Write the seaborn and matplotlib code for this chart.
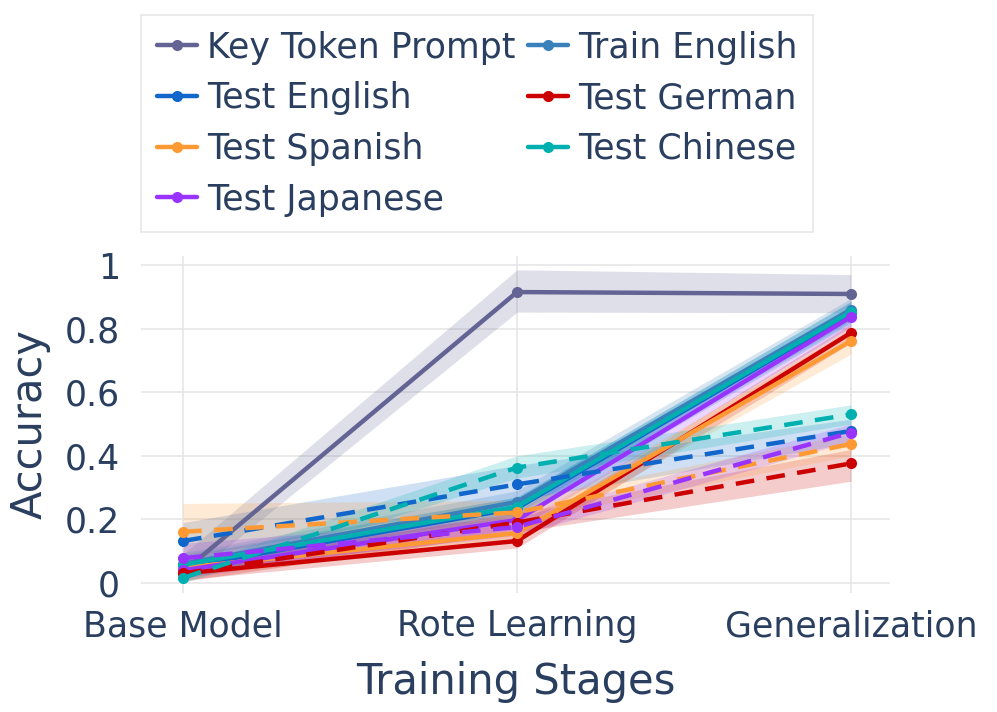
import numpy as np
import pandas as pd
import matplotlib.pyplot as plt
import seaborn as sns

# Stages on the x axis
stages = ['Base Model', 'Rote Learning', 'Generalization']

# Solid series (shown in legend): mean, lower and upper band
solid_names = ['Key Token Prompt', 'Train English', 'Test English', 'Test German',
               'Test Spanish', 'Test Chinese', 'Test Japanese']
solid_mean = {
    'Key Token Prompt': [0.035, 0.915, 0.909],
    'Train English':    [0.060, 0.255, 0.860],
    'Test English':     [0.050, 0.235, 0.848],
    'Test German':      [0.030, 0.132, 0.787],
    'Test Spanish':     [0.048, 0.157, 0.761],
    'Test Chinese':     [0.057, 0.240, 0.853],
    'Test Japanese':    [0.040, 0.198, 0.837],
}
solid_low = {
    'Key Token Prompt': [0.000, 0.852, 0.850],
    'Train English':    [0.030, 0.220, 0.825],
    'Test English':     [0.020, 0.200, 0.815],
    'Test German':      [0.010, 0.110, 0.755],
    'Test Spanish':     [0.020, 0.130, 0.720],
    'Test Chinese':     [0.030, 0.210, 0.820],
    'Test Japanese':    [0.015, 0.170, 0.805],
}
solid_high = {
    'Key Token Prompt': [0.090, 0.985, 0.970],
    'Train English':    [0.095, 0.290, 0.895],
    'Test English':     [0.085, 0.270, 0.885],
    'Test German':      [0.055, 0.160, 0.815],
    'Test Spanish':     [0.080, 0.185, 0.795],
    'Test Chinese':     [0.090, 0.270, 0.885],
    'Test Japanese':    [0.070, 0.225, 0.865],
}

# Dashed series (not in legend)
dashed_names = ['Test English', 'Test German', 'Test Spanish', 'Test Chinese', 'Test Japanese']
dashed_mean = {
    'Test English':  [0.132, 0.310, 0.478],
    'Test German':   [0.030, 0.190, 0.376],
    'Test Spanish':  [0.161, 0.222, 0.437],
    'Test Chinese':  [0.016, 0.363, 0.530],
    'Test Japanese': [0.078, 0.176, 0.473],
}
dashed_low = {
    'Test English':  [0.080, 0.260, 0.440],
    'Test German':   [0.005, 0.160, 0.320],
    'Test Spanish':  [0.080, 0.195, 0.400],
    'Test Chinese':  [0.000, 0.330, 0.500],
    'Test Japanese': [0.035, 0.150, 0.445],
}
dashed_high = {
    'Test English':  [0.190, 0.370, 0.515],
    'Test German':   [0.055, 0.220, 0.420],
    'Test Spanish':  [0.250, 0.260, 0.470],
    'Test Chinese':  [0.045, 0.400, 0.560],
    'Test Japanese': [0.125, 0.205, 0.500],
}

colors = {
    'Key Token Prompt': '#636394',
    'Train English': '#3a80ba',
    'Test English': '#1166cc',
    'Test German': '#cc0000',
    'Test Spanish': '#ff9933',
    'Test Chinese': '#00b0b0',
    'Test Japanese': '#9933ff',
}

text_color = '#2a3f5f'
grid_color = '#e6e6e6'

sns.set_theme(style='white')
plt.rcParams['font.family'] = ['DejaVu Sans']

fig = plt.figure(figsize=(9.97, 7.12), dpi=100)
ax = fig.add_axes([141 / 997, 1 - 592.5 / 712, 749 / 997, 337 / 712])

x = np.arange(len(stages))

for name in solid_names:
    c = colors[name]
    ax.fill_between(x, solid_low[name], solid_high[name], color=c, alpha=0.2, linewidth=0)
    sns.lineplot(x=x, y=solid_mean[name], ax=ax, color=c, linewidth=3.2,
                 marker='o', markersize=8, markeredgewidth=0, label=name)

for name in dashed_names:
    c = colors[name]
    ax.fill_between(x, dashed_low[name], dashed_high[name], color=c, alpha=0.2, linewidth=0)
    sns.lineplot(x=x, y=dashed_mean[name], ax=ax, color=c, linewidth=3.2,
                 linestyle=(0, (4.2, 2.8)), marker='o', markersize=8, markeredgewidth=0)

ax.set_xlim(-0.126, 2.117)
ax.set_ylim(-0.03, 1.03)
ax.set_xticks(x)
ax.set_xticklabels(stages)
ax.set_yticks([0, 0.2, 0.4, 0.6, 0.8, 1])
ax.set_yticklabels(['0', '0.2', '0.4', '0.6', '0.8', '1'])
ax.grid(True, color=grid_color, linewidth=1.2)
ax.set_axisbelow(True)
for s in ax.spines.values():
    s.set_visible(False)
ax.tick_params(axis='y', length=5, color=grid_color, width=1.2, pad=10,
               labelsize=25, labelcolor=text_color)
ax.tick_params(axis='x', length=0, pad=12, labelsize=25, labelcolor=text_color)
ax.set_xlabel('Training Stages', fontsize=30, color=text_color, labelpad=13)
ax.set_ylabel('Accuracy', fontsize=30, color=text_color, labelpad=10)

# legend: plotly-style row-major order in two columns
h, l = ax.get_legend_handles_labels()
lookup = dict(zip(l, h))
order = ['Key Token Prompt', 'Test English', 'Test Spanish', 'Test Japanese',
         'Train English', 'Test German', 'Test Chinese']
leg = ax.legend([lookup[n] for n in order], order, ncol=2, loc='upper left',
                bbox_to_anchor=(141 / 997, 1 - 15 / 712), bbox_transform=fig.transFigure,
                fontsize=25, frameon=True, fancybox=False, borderaxespad=0,
                handlelength=1.15, handletextpad=0.3, columnspacing=0.35,
                labelspacing=0.48, borderpad=0.45)
leg.get_frame().set_edgecolor('#e0e0e0')
leg.get_frame().set_linewidth(1.2)
for t in leg.get_texts():
    t.set_color(text_color)

fig.savefig('out.png', dpi=100)
